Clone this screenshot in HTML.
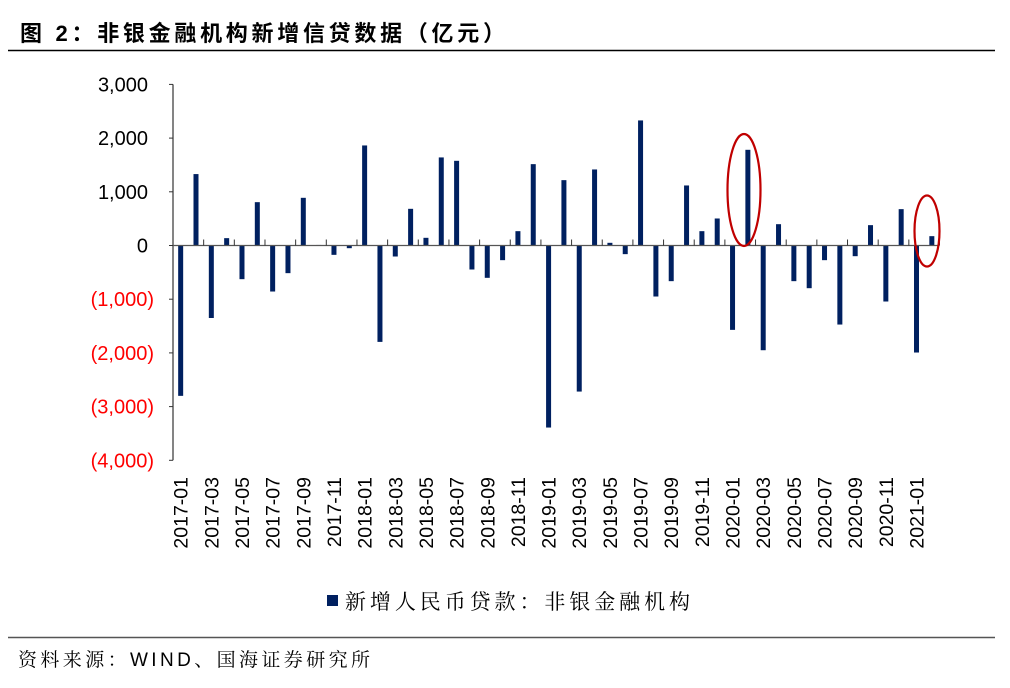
<!DOCTYPE html>
<html><head><meta charset="utf-8"><style>
body{margin:0;background:#fff;width:1010px;height:688px;overflow:hidden}
svg{display:block}
</style></head><body>
<svg id="c" width="1010" height="688" xmlns="http://www.w3.org/2000/svg">
<text x="20" y="41" textLength="485" lengthAdjust="spacing" font-family="'Liberation Sans','Noto Sans CJK SC',sans-serif" font-size="22" font-weight="bold" fill="#000">图 2：非银金融机构新增信贷数据（亿元）</text>
<line x1="8" y1="50.5" x2="995" y2="50.5" stroke="#000" stroke-width="1.5"/>
<g id="yaxis"></g>
<g id="bars"></g>
<g id="xaxis"></g>
<ellipse cx="744" cy="190" rx="16.5" ry="56" fill="none" stroke="#c00000" stroke-width="2.2"/>
<ellipse cx="927" cy="231" rx="12.5" ry="35.5" fill="none" stroke="#c00000" stroke-width="2.2"/>
<rect x="327" y="595" width="11" height="11" fill="#002060"/>
<text x="345" y="609" textLength="345" lengthAdjust="spacing" font-family="'Liberation Serif','Noto Serif CJK SC',serif" font-size="21" fill="#000">新增人民币贷款：非银金融机构</text>
<line x1="8" y1="637.5" x2="995" y2="637.5" stroke="#555" stroke-width="1.5"/>
<text x="18" y="666" textLength="352" lengthAdjust="spacing" font-family="'Liberation Sans','Noto Serif CJK SC',serif" font-size="19" fill="#000">资料来源：WIND、国海证券研究所</text>
</svg>
<script>
const categories=["2017-01","2017-02","2017-03","2017-04","2017-05","2017-06","2017-07","2017-08","2017-09","2017-10","2017-11","2017-12",
"2018-01","2018-02","2018-03","2018-04","2018-05","2018-06","2018-07","2018-08","2018-09","2018-10","2018-11","2018-12",
"2019-01","2019-02","2019-03","2019-04","2019-05","2019-06","2019-07","2019-08","2019-09","2019-10","2019-11","2019-12",
"2020-01","2020-02","2020-03","2020-04","2020-05","2020-06","2020-07","2020-08","2020-09","2020-10","2020-11","2020-12",
"2021-01","2021-02"];
const values=[-2800,1330,-1350,137,-627,807,-857,-515,888,10,-174,-50,
1863,-1795,-205,683,143,1640,1577,-447,-602,-273,267,1515,
-3390,1217,-2720,1416,50,-161,2329,-950,-664,1118,267,503,
-1571,1782,-1950,397,-664,-795,-273,-1472,-199,379,-1043,677,
-1993,174];
const yTicks=[3000,2000,1000,0,-1000,-2000,-3000,-4000];
const yTickLabels=["3,000","2,000","1,000","0","(1,000)","(2,000)","(3,000)","(4,000)"];

const NS="http://www.w3.org/2000/svg";
const X0=173,BW=15.33,Y0=245.5,PER=0.0537;
function y(v){return Y0-v*PER;}
function x(i){return X0+BW*(i+0.5);}
function mk(t,a,p){const e=document.createElementNS(NS,t);for(const k in a)e.setAttribute(k,a[k]);p.appendChild(e);return e;}
const ya=document.getElementById('yaxis'),ba=document.getElementById('bars'),xa=document.getElementById('xaxis');
const yl=mk('line',{x1:X0,y1:y(3000),x2:X0,y2:y(-4000),stroke:'#333','stroke-width':1.2},ya);


yTicks.forEach((t,i)=>{
 const tk=mk('line',{x1:X0-4,y1:y(t),x2:X0,y2:y(t),stroke:'#333','stroke-width':1},ya);
 
 
 const neg=t<0;
 const tx=mk('text',{x:neg?154:148,y:y(t)+7,'text-anchor':'end','font-family':"'Liberation Sans',sans-serif",'font-size':20,fill:neg?'#ff0000':'#000'},ya);
 tx.textContent=yTickLabels[i];
 
 
});
values.forEach((v,i)=>{
 const r=mk('rect',{x:x(i)-2.5,y:Math.min(y(v),Y0),width:5,height:Math.max(Math.abs(y(v)-Y0),0.5),fill:'#002060'},ba);
 
 
});
const zl=mk('line',{x1:X0,y1:Y0,x2:X0+BW*categories.length,y2:Y0,stroke:'#555','stroke-width':1.2},xa);


categories.forEach((c,i)=>{
 if(i%2===1){
  const tk=mk('line',{x1:X0+BW*(i+1),y1:Y0-6,x2:X0+BW*(i+1),y2:Y0,stroke:'#333','stroke-width':1},xa);
  
  
 }
 if(i%2===0){
  const tx=mk('text',{x:0,y:0,'text-anchor':'end','font-family':"'Liberation Sans',sans-serif",'font-size':19.5,fill:'#000',transform:`translate(${x(i)+7},477) rotate(-90)`},xa);
  tx.textContent=c;
  
  
 }
});
</script>
</body></html>
